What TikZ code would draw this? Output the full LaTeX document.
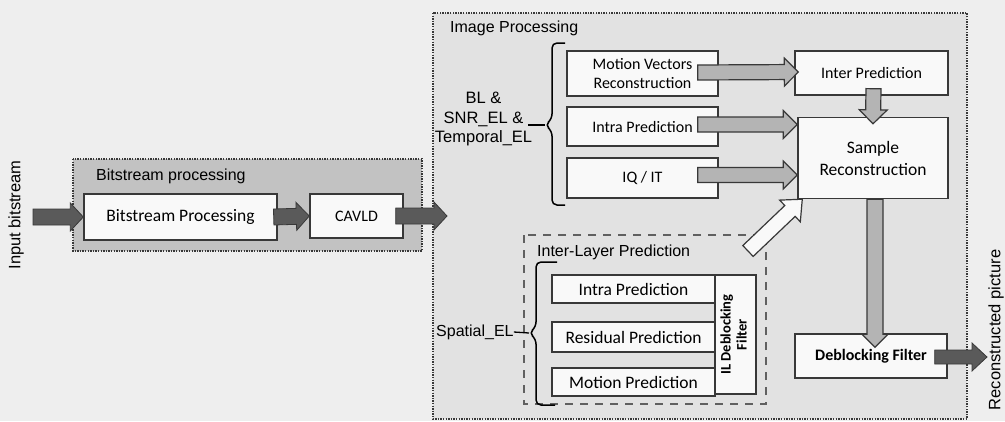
\documentclass[tikz,border=0pt]{standalone}
\usepackage{fontspec}
\setmainfont{Carlito}
\newfontfamily\arialf{Liberation Sans}
\usetikzlibrary{calc}
\definecolor{paper}{HTML}{EEEEEE}
\definecolor{ipfill}{HTML}{E2E2E2}
\definecolor{bpfill}{HTML}{C2C2C2}
\definecolor{boxfill}{HTML}{F9F9F9}
\definecolor{edge}{HTML}{383838}
\definecolor{darkarr}{HTML}{5A5A5A}
\definecolor{lightarr}{HTML}{B4B4B4}
\tikzset{
  blk/.style={draw=edge, line width=1.4pt, fill=boxfill, inner sep=0pt, align=center,
              font=\fontsize{16}{19}\selectfont},
  bigtxt/.style={font=\fontsize{17.5}{22}\selectfont},
  grp/.style={font=\arialf\fontsize{16}{18}\selectfont, inner sep=0pt, anchor=west},
  vtxt/.style={font=\arialf\fontsize{16.5}{18}\selectfont, rotate=90, inner sep=0pt},
  region/.style={draw=edge, line width=1.8pt, dash pattern=on 1.4pt off 1.2pt},
  ilregion/.style={draw=edge!80, line width=1.5pt, dash pattern=on 8pt off 7pt},
  darkA/.style={fill=darkarr, draw=edge, line width=0.8pt},
  lightA/.style={fill=lightarr, draw=edge, line width=1.2pt},
  hollowA/.style={fill=boxfill, draw=edge, line width=1.2pt},
  bracel/.style={draw=black, line width=1.5pt, rounded corners=5pt},
}
% style, from, to, shaft half width, head half width, head length
\newcommand\fatarrow[6]{%
  \path[#1] let \p1=(#2), \p2=(#3), \n1={atan2(\y2-\y1,\x2-\x1)}, \n2={veclen(\x2-\x1,\y2-\y1)} in
  [shift={(\x1,\y1)}, rotate=\n1]
  (0pt,-#4pt) -- ({\n2-#6pt},-#4pt) -- ({\n2-#6pt},-#5pt) -- ({\n2},0pt)
  -- ({\n2-#6pt},#5pt) -- ({\n2-#6pt},#4pt) -- (0pt,#4pt) -- cycle;}
\begin{document}
\begin{tikzpicture}[x=1pt,y=-1pt]
\useasboundingbox[fill=paper] (0,0) rectangle (1005,421);
% regions
\path[region, fill=ipfill] (433,13) rectangle (967,419);
\path[region, fill=bpfill] (73,159) rectangle (422,251);
\path[ilregion] (524,235) rectangle (766,404);
% group labels
\node[grp] (lbp) at (96,176) {Bitstream processing};
\node[grp] (lip) at (450,28) {Image Processing};
\node[grp] (lil) at (537,252) {Inter-Layer Prediction};
\node[vtxt] (inb) at (16,215) {Input bitstream};
\node[vtxt] (rcp) at (996,330) {Reconstructed picture};
\node[font=\arialf\fontsize{16.5}{19.5}\selectfont, align=center, inner sep=0pt] (bl) at (483.5,119) {BL \&\\SNR\_EL \&\\Temporal\_EL};
\node[grp] (sp) at (436,332) {Spatial\_EL};
% blocks
\node[blk, bigtxt, minimum width=193, minimum height=46] (bp) at (180.5,217) {Bitstream Processing};
\node[blk, minimum width=93, minimum height=44] (cavld) at (356.5,216) {CAVLD};
\node[blk, minimum width=151, minimum height=45] (mvr) at (642.5,73.5) {Motion Vectors\\Reconstruction};
\node[blk, minimum width=151, minimum height=39] (intra) at (642.5,126.5) {Intra Prediction};
\node[blk, minimum width=151, minimum height=40] (iqit) at (642.5,178) {IQ / IT};
\node[blk, minimum width=153, minimum height=44] (inter) at (871.5,73) {Inter Prediction};
\node[blk, bigtxt, minimum width=150, minimum height=81] (sample) at (873,158) {Sample\\Reconstruction};
\node[blk, minimum width=152, minimum height=44, font=\bfseries\fontsize{16}{19}\selectfont] (dbf) at (871,356) {Deblocking Filter};
\node[blk, minimum width=41, minimum height=119, font=\bfseries\fontsize{14.5}{16}\selectfont] (ildf) at (735.5,334.5) {\rotatebox{90}{\begin{tabular}{@{}c@{}}IL Deblocking\\Filter\end{tabular}}};
\node[blk, bigtxt, minimum width=163, minimum height=28] (ilintra) at (633.5,289) {Intra Prediction};
\node[blk, bigtxt, minimum width=163, minimum height=30] (ilres) at (633.5,337) {Residual Prediction};
\node[blk, bigtxt, minimum width=163, minimum height=28] (ilmot) at (633.5,382) {Motion Prediction};
% braces
\coordinate (b1tip) at (545,125);
\draw[bracel] (565,43) -- (552,43) -- (552,119) -- (b1tip) -- (552,131) -- (552,205) -- (565,205);
\draw[line width=1.3pt] (b1tip) -- ++(-17,0);
\coordinate (b2tip) at (529,333);
\draw[bracel] (557,262) -- (536,262) -- (536,327) -- (b2tip) -- (536,339) -- (536,405) -- (555,405);
\draw[line width=1.3pt] (b2tip) -- (sp.east);
% dark arrows
\coordinate (inS) at (33,217);
\coordinate (outC) at (447,216);
\coordinate (rpT) at (987,357);
\fatarrow{darkA}{inS}{bp.west}{8}{14}{13}
\fatarrow{darkA}{$(bp.east)+(-4,0)$}{cavld.west}{8}{14}{13}
\fatarrow{darkA}{$(cavld.east)+(-8,0)$}{outC}{8}{14}{13}
\fatarrow{darkA}{$(dbf.east)+(-13,1)$}{rpT}{7}{14}{15}
% light arrows
\fatarrow{lightA}{$(mvr.east)+(-21,-1)$}{$(inter.west)+(4,-1)$}{7.5}{14}{14}
\fatarrow{lightA}{$(intra.east)+(-21,-2)$}{$(intra.east -| sample.west)+(0,-2)$}{7.5}{14}{14}
\fatarrow{lightA}{$(iqit.east)+(-21,-3)$}{$(iqit.east -| sample.west)+(0,-3)$}{7.5}{14}{14}
\fatarrow{lightA}{$(inter.south)+(2,-7)$}{$(sample.north)+(0,7)$}{7.5}{14}{14}
\fatarrow{lightA}{$(sample.south)+(2,0)$}{$(sample.south |- dbf.north)+(2,14)$}{8}{13}{13}
% hollow arrow
\coordinate (ilt) at (748,251);
\fatarrow{hollowA}{ilt}{$(sample.south west)+(5,0)$}{7.5}{15}{17}
\end{tikzpicture}
\end{document}
